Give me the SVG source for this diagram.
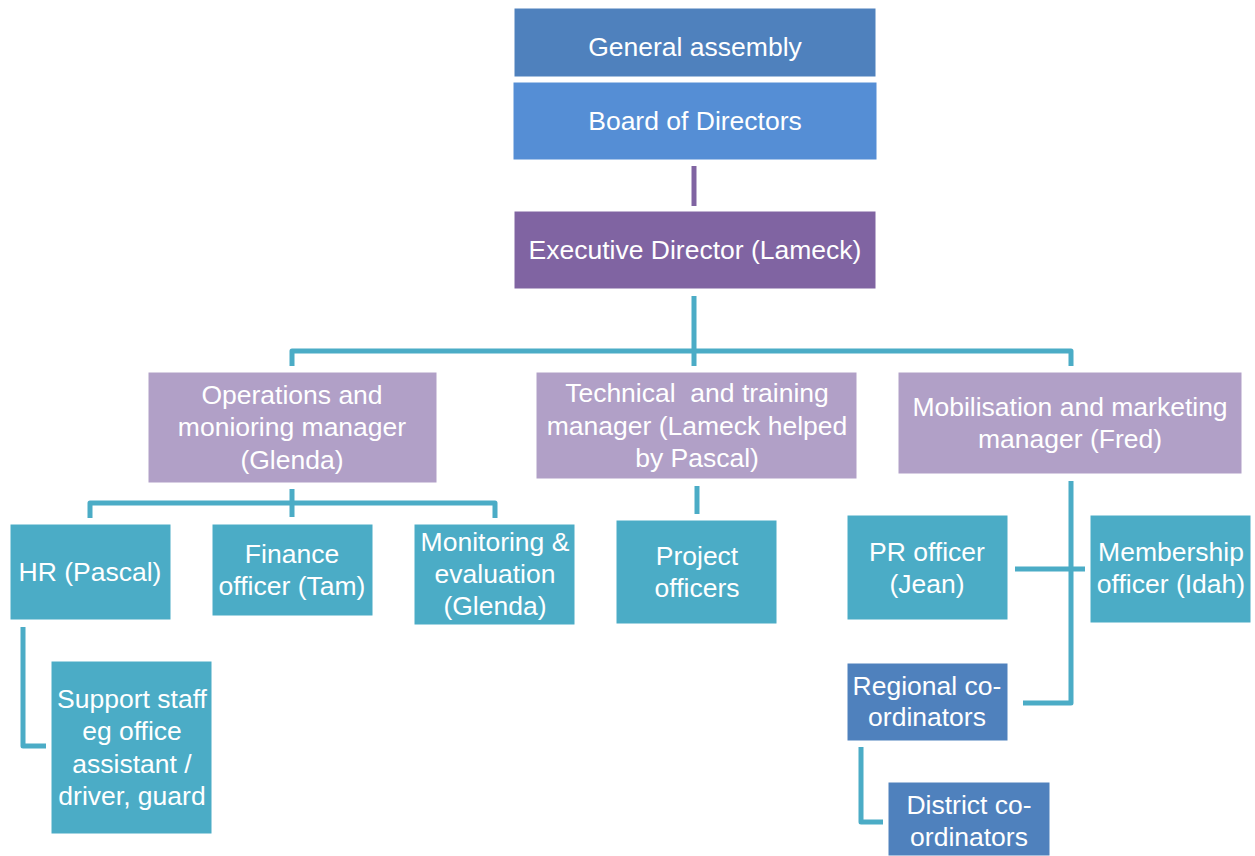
<svg xmlns="http://www.w3.org/2000/svg" width="1255" height="856" viewBox="0 0 1255 856">
<style>
.t{font-family:"Liberation Sans",Arial,sans-serif;font-size:26.5px;fill:#fff;text-anchor:middle}
.c{fill:none;stroke:#4BACC6;stroke-width:5;stroke-linejoin:round}
.b{stroke:#fff;stroke-width:1}
.dk{fill:#4F81BD}
.bd{fill:#558ED5}
.ex{fill:#8064A2}
.mg{fill:#B1A0C7}
.cy{fill:#4BACC6}
</style>
<rect width="1255" height="856" fill="#fff"/>
<g id="connectors">
<line x1="694" y1="166" x2="694" y2="206" stroke="#8064A2" stroke-width="5"/>
<path class="c" d="M694 296V351M292 366V351H1071V366M694 351V366"/>
<path class="c" d="M292 489V517M90 518V503H495V518"/>
<path class="c" d="M697 486V514"/>
<path class="c" d="M1071 481V703H1023M1015 569H1085"/>
<path class="c" d="M23 627V746H46"/>
<path class="c" d="M861 747V822H883"/>
</g>
<g id="general"><rect class="b dk" x="514" y="8" width="362" height="69"/><text class="t" x="695" y="56">General assembly</text></g>
<g id="board"><rect class="b bd" x="513" y="82" width="364" height="78"/><text class="t" x="695" y="130">Board of Directors</text></g>
<g id="exec"><rect class="b ex" x="514" y="211" width="362" height="78"/><text class="t" x="695" y="259">Executive Director (Lameck)</text></g>
<g id="ops"><rect class="b mg" x="148" y="372" width="289" height="111"/><text class="t" x="292" y="404">Operations and</text><text class="t" x="292" y="436">monioring manager</text><text class="t" x="292" y="469">(Glenda)</text></g>
<g id="tech"><rect class="b mg" x="536" y="372" width="321" height="107"/><text class="t" x="697" y="402" xml:space="preserve" style="white-space:pre">Technical  and training</text><text class="t" x="697" y="435">manager (Lameck helped</text><text class="t" x="697" y="467">by Pascal)</text></g>
<g id="mob"><rect class="b mg" x="898" y="372" width="344" height="102"/><text class="t" x="1070" y="416">Mobilisation and marketing</text><text class="t" x="1070" y="448">manager (Fred)</text></g>
<g id="hr"><rect class="b cy" x="10" y="524" width="161" height="96"/><text class="t" x="90" y="581">HR (Pascal)</text></g>
<g id="finance"><rect class="b cy" x="212" y="524" width="161" height="92"/><text class="t" x="292" y="563">Finance</text><text class="t" x="292" y="595">officer (Tam)</text></g>
<g id="me"><rect class="b cy" x="414" y="524" width="161" height="101"/><text class="t" x="495" y="551">Monitoring &amp;</text><text class="t" x="495" y="583">evaluation</text><text class="t" x="495" y="615">(Glenda)</text></g>
<g id="project"><rect class="b cy" x="616" y="520" width="161" height="104"/><text class="t" x="697" y="565">Project</text><text class="t" x="697" y="597">officers</text></g>
<g id="pr"><rect class="b cy" x="847" y="515" width="161" height="105"/><text class="t" x="927" y="561">PR officer</text><text class="t" x="927" y="593">(Jean)</text></g>
<g id="membership"><rect class="b cy" x="1090" y="515" width="161" height="108"/><text class="t" x="1171" y="561">Membership</text><text class="t" x="1171" y="593">officer (Idah)</text></g>
<g id="support"><rect class="b cy" x="51" y="661" width="161" height="173"/><text class="t" x="132" y="708">Support staff</text><text class="t" x="132" y="740">eg office</text><text class="t" x="132" y="773">assistant /</text><text class="t" x="132" y="805">driver, guard</text></g>
<g id="regional"><rect class="b dk" x="847" y="663" width="161" height="78"/><text class="t" x="927" y="695">Regional co-</text><text class="t" x="927" y="726">ordinators</text></g>
<g id="district"><rect class="b dk" x="888" y="782" width="162" height="74"/><text class="t" x="969" y="814">District co-</text><text class="t" x="969" y="846">ordinators</text></g>
</svg>
